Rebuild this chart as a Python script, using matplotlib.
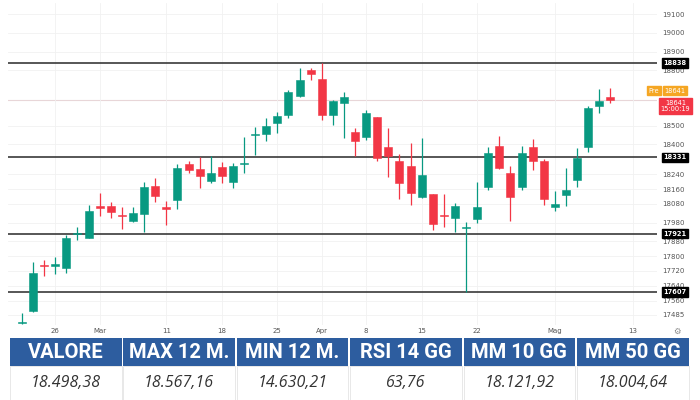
import matplotlib.pyplot as plt
import matplotlib.transforms as mtransforms
from matplotlib.patches import Rectangle

# daily candles, 21 Feb -> 9 May (trading days only)
opens = [17441, 17505, 17753, 17750, 17738, 17917, 17899, 18065, 18069, 18020,
         17989, 18025, 18177, 18060, 18101, 18293, 18268, 18205, 18281, 18197,
         18294, 18450, 18455, 18514, 18558, 18661, 18800, 18752, 18558, 18625,
         18469, 18442, 18546, 18388, 18313, 18284, 18119, 18132, 18020, 18003,
         17949, 17998, 18170, 18393, 18245, 18173, 18388, 18311, 18062, 18128,
         18209, 18385, 18607, 18655]
highs = [17494, 17770, 17780, 17793, 17913, 17955, 18075, 18141, 18089, 18065,
         18062, 18197, 18218, 18098, 18295, 18311, 18334, 18340, 18304, 18299,
         18442, 18496, 18544, 18576, 18693, 18813, 18813, 18836, 18640, 18684,
         18487, 18585, 18549, 18487, 18349, 18406, 18433, 18136, 18132, 18084,
         17985, 18200, 18388, 18446, 18284, 18392, 18428, 18322, 18150, 18272,
         18383, 18607, 18697, 18702]
lows = [17436, 17500, 17693, 17704, 17711, 17886, 17895, 18017, 18003, 17944,
        17985, 17931, 18092, 17967, 18051, 18245, 18168, 18191, 18194, 18168,
        18245, 18343, 18419, 18460, 18541, 18658, 18747, 18532, 18505, 18433,
        18338, 18424, 18311, 18224, 18105, 18075, 18111, 17940, 17958, 17931,
        17609, 17976, 18155, 18267, 17990, 18155, 18263, 18075, 18044, 18069,
        18173, 18361, 18571, 18621]
closes = [17445, 17711, 17747, 17756, 17896, 17926, 18044, 18060, 18037, 18015,
          18030, 18173, 18123, 18055, 18272, 18263, 18232, 18248, 18232, 18284,
          18302, 18458, 18499, 18555, 18680, 18747, 18779, 18558, 18635, 18657,
          18419, 18568, 18329, 18338, 18191, 18141, 18236, 17972, 18014, 18069,
          17956, 18065, 18352, 18272, 18119, 18356, 18313, 18105, 18078, 18155,
          18326, 18594, 18634, 18641]

levels = [18838, 18331, 17921, 17607]
last_price = 18641
last_time = "15:00:19"

xtick_pos = [3, 7, 13, 18, 23, 27, 31, 36, 41, 48, 55]
xtick_labels = ["26", "Mar", "11", "18", "25", "Apr", "8", "15", "22", "Mag", "13"]
ytick_vals = [19100, 19000, 18900, 18800, 18500, 18400, 18240, 18160, 18080,
              17980, 17880, 17800, 17720, 17640, 17560, 17485]

headers = ["VALORE", "MAX 12 M.", "MIN 12 M.", "RSI 14 GG", "MM 10 GG", "MM 50 GG"]
values = ["18.498,38", "18.567,16", "14.630,21", "63,76", "18.121,92", "18.004,64"]

green = "#089981"
red = "#f23645"

fig = plt.figure(figsize=(7, 4), dpi=100)
ax = fig.add_axes([8 / 700, 75 / 400, 649 / 700, 322 / 400])

for i in range(len(opens)):
    o, h, l, c = opens[i], highs[i], lows[i], closes[i]
    col = green if c >= o else red
    ax.plot([i, i], [l, h], color=col, lw=0.9, zorder=3, solid_capstyle="butt")
    lo = min(o, c)
    hgt = max(abs(c - o), 8)
    if abs(c - o) < 8:
        lo = (o + c) / 2 - 4
    ax.add_patch(Rectangle((i - 0.36, lo), 0.72, hgt, facecolor=col,
                           edgecolor=col, lw=0.4, zorder=4))

# price line
ax.axhline(last_price, color="#e8d6d8", lw=0.8, zorder=1)

for lv in levels:
    ax.axhline(lv, color="#3a3a3a", lw=1.2, zorder=2)

ax.set_xlim(-1.26, 57.2)
ax.set_ylim(17429, 19161)
ax.set_xticks(xtick_pos)
ax.set_xticklabels(xtick_labels)
ax.set_yticks(ytick_vals)
ax.set_yticklabels([str(v) for v in ytick_vals])
ax.yaxis.tick_right()
ax.tick_params(axis="both", length=0, labelsize=5, labelcolor="#555555")
ax.tick_params(axis="x", pad=2)
ax.tick_params(axis="y", pad=4)
ax.grid(True, color="#f1f1f1", lw=0.6, zorder=0)
for s in ax.spines.values():
    s.set_visible(False)

trans = mtransforms.blended_transform_factory(ax.transAxes, ax.transData)
for lv in levels:
    ax.text(1.0275, lv, str(lv), transform=trans, ha="center", va="center",
            fontsize=4.8, color="white", fontweight="bold", clip_on=False, zorder=6,
            bbox=dict(boxstyle="square,pad=0.25", fc="black", ec="black"))

ax.text(1.0275, 18690, str(last_price), transform=trans, ha="center", va="center",
        fontsize=4.8, color="white", clip_on=False, zorder=6,
        bbox=dict(boxstyle="square,pad=0.25", fc="#f5a623", ec="#f5a623"))
ax.text(0.9955, 18690, "Pre", transform=trans, ha="center", va="center",
        fontsize=4.8, color="white", clip_on=False, zorder=6,
        bbox=dict(boxstyle="square,pad=0.25", fc="#f5a623", ec="#f5a623"))
ax.text(1.0285, 18606, str(last_price) + "\n" + last_time, transform=trans,
        ha="center", va="center", fontsize=4.8, color="white", clip_on=False,
        zorder=6, linespacing=1.1,
        bbox=dict(boxstyle="square,pad=0.3", fc="#f23645", ec="#f23645"))

# small settings icon bottom right
fig.text(677 / 700, 1 - 331 / 400, "⚙", fontsize=6, color="#888888",
         ha="center", va="center")

# table of indicators
tab = fig.add_axes([0, 0, 1, 1])
tab.set_xlim(0, 700)
tab.set_ylim(400, 0)
tab.axis("off")
for k in range(len(headers)):
    x0 = 10 + k * 113.4
    tab.add_patch(Rectangle((x0, 338), 111.5, 28, facecolor="#2d5d9f", edgecolor="none"))
    tab.add_patch(Rectangle((x0, 366), 111.5, 34, facecolor="white",
                            edgecolor="#e4e4e4", lw=0.6))
    tab.text(x0 + 55.75, 352.5, headers[k], ha="center", va="center", color="white",
             fontsize=14.5, fontweight="bold", family=["Roboto", "DejaVu Sans"])
    tab.text(x0 + 55.75, 383, values[k], ha="center", va="center", color="#333333",
             fontsize=11.5, style="italic", family=["Open Sans", "DejaVu Sans"])

fig.savefig("out.png", dpi=100)
